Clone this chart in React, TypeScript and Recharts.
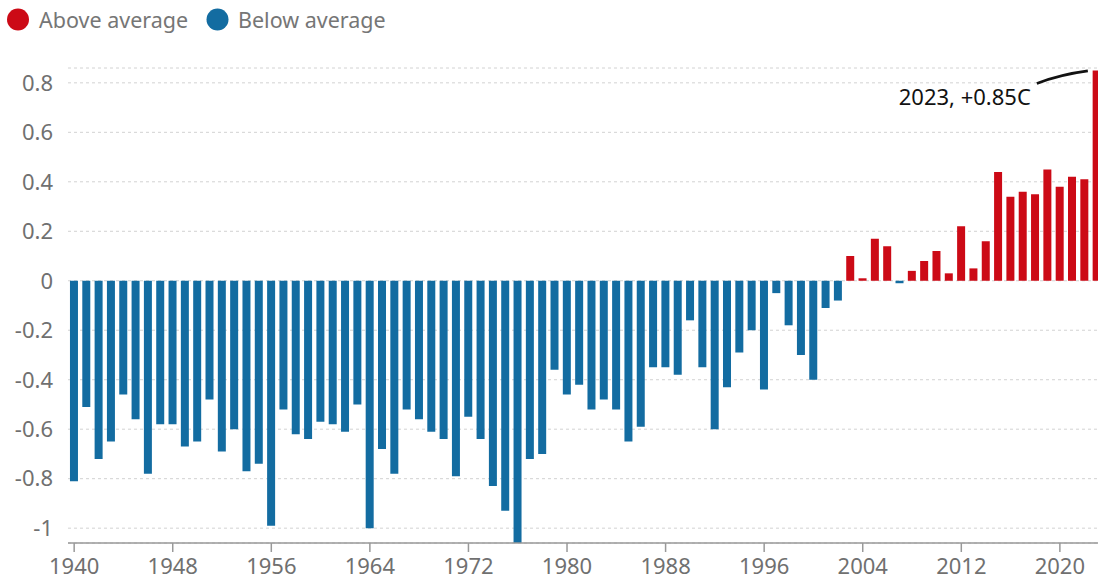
import React from 'react';
import { BarChart, Bar, XAxis, YAxis, CartesianGrid, Cell, ReferenceDot } from 'recharts';

const years: number[] = Array.from({ length: 84 }, (_, i) => 1940 + i);

const anomalies: number[] = [
  -0.81, -0.51, -0.72, -0.65, -0.46, -0.56, -0.78, -0.58, -0.58, -0.67,
  -0.65, -0.48, -0.69, -0.60, -0.77, -0.74, -0.99, -0.52, -0.62, -0.64,
  -0.57, -0.58, -0.61, -0.50, -1.00, -0.68, -0.78, -0.52, -0.56, -0.61,
  -0.64, -0.79, -0.55, -0.64, -0.83, -0.93, -1.06, -0.72, -0.70, -0.36,
  -0.46, -0.42, -0.52, -0.48, -0.52, -0.65, -0.59, -0.35, -0.35, -0.38,
  -0.16, -0.35, -0.60, -0.43, -0.29, -0.20, -0.44, -0.05, -0.18, -0.30,
  -0.40, -0.11, -0.08, 0.10, 0.01, 0.17, 0.14, -0.01, 0.04, 0.08,
  0.12, 0.03, 0.22, 0.05, 0.16, 0.44, 0.34, 0.36, 0.35, 0.45,
  0.38, 0.42, 0.41, 0.85,
];

const yTicks: number[] = [-1, -0.8, -0.6, -0.4, -0.2, 0, 0.2, 0.4, 0.6, 0.8];
const legendItems: string[] = ['Above average', 'Below average'];
const annotationText = '2023, +0.85C';

const RED = '#cc0a16';
const BLUE = '#136ca1';
const FONT = '"Noto Sans", "Open Sans", sans-serif';

const data = years.map((y, i) => ({ year: y, value: anomalies[i] }));

const Annotation = (props: any) => {
  const { cx, cy } = props;
  if (cx == null || cy == null) return null;
  return (
    <g>
      <path
        d={`M ${cx - 60} ${cy + 13} Q ${cx - 36} ${cy + 4} ${cx - 9} ${cy + 0.5}`}
        fill="none"
        stroke="#121212"
        strokeWidth={2.8}
      />
      <text
        x={cx - 66}
        y={cy + 34.5}
        textAnchor="end"
        fontSize={22}
        fontFamily={FONT}
        fill="#121212"
      >
        {annotationText}
      </text>
    </g>
  );
};

export default function App() {
  return (
    <div
      style={{
        position: 'absolute',
        left: 0,
        top: 0,
        width: 1098,
        height: 583,
        overflow: 'hidden',
        background: '#fff',
        fontFamily: FONT,
      }}
    >
      <svg width={420} height={44} style={{ position: 'absolute', left: 0, top: 0 }}>
        <circle cx={18} cy={19.5} r={11} fill={RED} />
        <text x={39} y={28} fontSize={21.5} fontFamily={FONT} fill="#767676">
          {legendItems[0]}
        </text>
        <circle cx={217.5} cy={19.5} r={11} fill={BLUE} />
        <text x={238} y={28} fontSize={21.5} fontFamily={FONT} fill="#767676">
          {legendItems[1]}
        </text>
      </svg>
      <div style={{ position: 'absolute', left: 0, top: 0 }}>
        <BarChart
          width={1110}
          height={583}
          data={data}
          margin={{ top: 68, right: 7, bottom: 9, left: 8 }}
          barCategoryGap="16%"
        >
          <CartesianGrid
            vertical={false}
            stroke="#d2d2d2"
            strokeDasharray="3 3"
          />
          <XAxis
            dataKey="year"
            interval={7}
            height={31}
            tickSize={9}
            tickMargin={6}
            stroke="#999"
            tick={{ fontSize: 22, fill: '#707070', fontFamily: FONT }}
            tickLine={{ stroke: '#999', strokeWidth: 1.5 }}
            axisLine={{ stroke: '#999', strokeWidth: 1.5 }}
          />
          <YAxis
            width={60}
            domain={[-1.06, 0.86]}
            allowDataOverflow
            ticks={yTicks}
            axisLine={false}
            tickLine={false}
            tickSize={0}
            tickMargin={15}
            tick={{ fontSize: 22, fill: '#707070', fontFamily: FONT }}
          />
          <Bar dataKey="value" isAnimationActive={false}>
            {data.map((d, i) => (
              <Cell key={i} fill={d.value >= 0 ? RED : BLUE} />
            ))}
          </Bar>
          <ReferenceDot
            x={2023}
            y={0.85}
            ifOverflow="visible"
            shape={(p: any) => <Annotation {...p} />}
          />
        </BarChart>
      </div>
    </div>
  );
}
